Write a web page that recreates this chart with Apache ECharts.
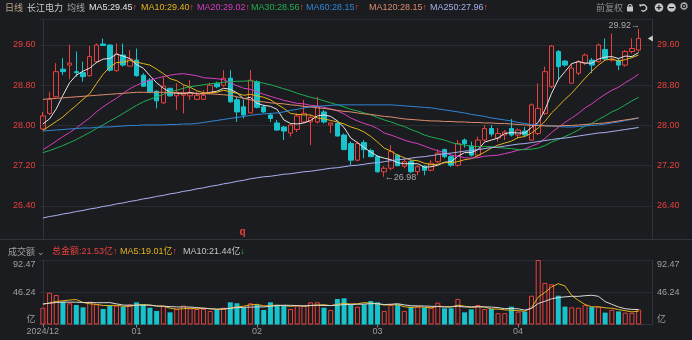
<!DOCTYPE html>
<html>
<head>
<meta charset="utf-8">
<script src="https://cdn.jsdelivr.net/npm/echarts@6/dist/echarts.min.js"></script>
<style>
html,body{margin:0;padding:0;background:#1b1c20;}
#c{width:692px;height:340px;}
</style>
</head>
<body>
<div id="c"></div>
<script>
// ---------------- data ----------------
const dates = [
 '2024-12-12','2024-12-13','2024-12-16','2024-12-17','2024-12-18','2024-12-19','2024-12-20','2024-12-23','2024-12-24','2024-12-25','2024-12-26','2024-12-27','2024-12-30','2024-12-31',
 '2025-01-02','2025-01-03','2025-01-06','2025-01-07','2025-01-08','2025-01-09','2025-01-10','2025-01-13','2025-01-14','2025-01-15','2025-01-16','2025-01-17','2025-01-20','2025-01-21','2025-01-22','2025-01-23','2025-01-24','2025-01-27',
 '2025-02-05','2025-02-06','2025-02-07','2025-02-10','2025-02-11','2025-02-12','2025-02-13','2025-02-14','2025-02-17','2025-02-18','2025-02-19','2025-02-20','2025-02-21','2025-02-24','2025-02-25','2025-02-26','2025-02-27','2025-02-28',
 '2025-03-03','2025-03-04','2025-03-05','2025-03-06','2025-03-07','2025-03-10','2025-03-11','2025-03-12','2025-03-13','2025-03-14','2025-03-17','2025-03-18','2025-03-19','2025-03-20','2025-03-21','2025-03-24','2025-03-25','2025-03-26','2025-03-27','2025-03-28','2025-03-31',
 '2025-04-01','2025-04-02','2025-04-03','2025-04-07','2025-04-08','2025-04-09','2025-04-10','2025-04-11','2025-04-14','2025-04-15','2025-04-16','2025-04-17','2025-04-18','2025-04-21','2025-04-22','2025-04-23','2025-04-24','2025-04-25','2025-04-28'
];
const monthTickLabels = ['2024/12','01','02','03','04'];

const opens = [
 27.93,28.24,28.57,29.12,29.20,29.07,29.05,28.99,29.27,29.62,
 29.60,29.09,29.40,29.18,29.30,29.00,28.90,28.68,28.45,28.74,
 28.59,28.60,28.59,28.52,28.52,28.64,28.84,28.80,28.94,28.51,
 28.37,28.25,28.87,28.37,28.21,28.05,27.97,27.85,27.92,28.07,
 28.07,28.07,28.27,28.01,28.04,27.81,27.64,27.31,27.66,27.50,
 27.38,27.08,27.15,27.41,27.19,27.28,27.08,27.19,27.11,27.28,
 27.52,27.38,27.21,27.71,27.59,27.41,27.71,27.94,27.75,27.81,
 27.94,27.81,27.89,27.71,27.84,28.24,28.77,29.47,29.28,28.84,
 29.04,29.24,29.30,29.27,29.51,29.30,29.29,29.20,29.47,29.50
];
const closes = [
 28.19,28.52,29.07,29.07,29.24,29.05,28.97,29.37,29.60,29.59,
 29.10,29.42,29.20,29.32,28.99,28.78,28.67,28.49,28.78,28.59,
 28.66,28.64,28.65,28.60,28.60,28.80,28.77,28.94,28.47,28.27,
 28.21,28.90,28.36,28.27,28.14,27.91,27.89,28.01,28.19,28.24,
 28.16,28.37,28.07,28.05,27.79,27.52,27.31,27.64,27.52,27.38,
 27.08,27.15,27.48,27.20,27.28,27.08,27.18,27.11,27.25,27.45,
 27.38,27.21,27.64,27.64,27.41,27.71,27.94,27.83,27.84,27.87,
 27.81,27.91,27.81,28.41,28.34,29.07,29.58,29.17,29.20,29.14,
 29.27,29.40,29.20,29.60,29.32,29.32,29.20,29.47,29.53,29.73
];
const lows = [
 27.91,28.21,28.56,29.00,28.92,28.97,28.87,28.97,29.24,29.58,
 29.07,29.07,29.17,29.17,28.97,28.77,28.64,28.34,28.43,28.57,
 28.31,28.24,28.51,28.51,28.51,28.62,28.74,28.77,28.45,28.07,
 28.14,28.24,28.34,28.25,28.07,27.89,27.71,27.78,27.87,28.05,
 27.61,28.04,28.04,27.85,27.78,27.51,27.21,27.29,27.35,27.37,
 27.06,26.98,27.11,27.19,27.15,27.05,27.01,27.01,27.09,27.25,
 27.35,27.18,27.18,27.56,27.38,27.38,27.68,27.78,27.68,27.71,
 27.78,27.74,27.78,27.70,27.81,28.21,28.74,28.90,29.17,28.84,
 29.00,29.20,29.04,29.24,29.30,29.27,29.10,29.17,29.43,29.47
];
const highs = [
 28.27,28.67,29.24,29.34,29.61,29.47,29.27,29.58,29.63,29.73,
 29.61,29.63,29.63,29.50,29.53,29.04,28.94,28.70,28.97,28.74,
 28.84,28.80,28.90,28.67,28.70,28.85,28.87,29.10,29.10,28.57,
 28.51,29.10,28.90,28.41,28.25,28.11,27.99,28.04,28.24,28.51,
 28.21,28.57,28.31,28.07,28.07,27.84,27.68,27.68,27.71,27.54,
 27.41,27.19,27.61,27.43,27.35,27.31,27.21,27.21,27.31,27.52,
 27.54,27.41,27.71,27.74,27.68,27.78,28.01,28.01,27.95,27.91,
 28.13,27.94,27.97,28.44,28.84,29.17,29.60,29.50,29.30,29.24,
 29.30,29.43,29.34,29.63,29.73,29.83,29.34,29.50,29.73,29.92
];
const ma5 = [
 28.03,28.13,28.33,28.60,28.85,29.00,29.08,29.14,29.25,29.32,
 29.33,29.42,29.38,29.33,29.21,29.14,28.99,28.85,28.74,28.66,
 28.64,28.63,28.66,28.63,28.63,28.66,28.68,28.74,28.72,28.65,
 28.53,28.56,28.44,28.40,28.38,28.32,28.11,28.04,28.03,28.05,
 28.10,28.19,28.21,28.18,28.09,27.96,27.75,27.66,27.56,27.47,
 27.39,27.35,27.32,27.26,27.24,27.24,27.24,27.17,27.18,27.21,
 27.27,27.28,27.39,27.46,27.46,27.52,27.67,27.71,27.75,27.84,
 27.86,27.85,27.85,27.96,28.06,28.31,28.64,28.91,29.07,29.23,
 29.27,29.24,29.24,29.32,29.36,29.37,29.33,29.38,29.37,29.45
];
const ma10 = [
 27.90,27.99,28.08,28.17,28.29,28.40,28.52,28.63,28.83,29.02,
 29.16,29.25,29.26,29.29,29.26,29.23,29.20,29.12,29.03,28.93,
 28.89,28.81,28.76,28.69,28.65,28.65,28.66,28.70,28.67,28.64,
 28.60,28.62,28.59,28.56,28.51,28.42,28.34,28.24,28.22,28.21,
 28.21,28.15,28.13,28.10,28.07,28.03,27.97,27.93,27.87,27.78,
 27.67,27.55,27.49,27.41,27.36,27.31,27.30,27.25,27.22,27.23,
 27.26,27.26,27.28,27.32,27.34,27.40,27.47,27.55,27.61,27.65,
 27.69,27.76,27.78,27.85,27.95,28.08,28.25,28.38,28.52,28.64,
 28.79,28.94,29.08,29.20,29.30,29.32,29.28,29.31,29.35,29.40
];
const ma20 = [
 27.52,27.60,27.69,27.78,27.86,27.95,28.05,28.15,28.27,28.37,
 28.46,28.54,28.64,28.73,28.80,28.86,28.90,28.94,28.97,29.00,
 29.02,29.03,29.01,28.99,28.95,28.94,28.93,28.91,28.85,28.79,
 28.74,28.72,28.67,28.62,28.58,28.54,28.50,28.47,28.44,28.43,
 28.40,28.39,28.36,28.33,28.29,28.23,28.15,28.09,28.04,28.00,
 27.94,27.85,27.81,27.76,27.71,27.67,27.64,27.59,27.54,27.50,
 27.46,27.41,27.39,27.36,27.35,27.36,27.39,27.40,27.41,27.44,
 27.47,27.51,27.53,27.59,27.64,27.74,27.86,27.96,28.06,28.15,
 28.24,28.35,28.43,28.53,28.62,28.70,28.76,28.85,28.93,29.02
];
const ma30 = [
 27.46,27.50,27.55,27.60,27.66,27.72,27.79,27.86,27.94,28.01,
 28.09,28.16,28.24,28.32,28.40,28.47,28.52,28.57,28.62,28.67,
 28.70,28.74,28.77,28.79,28.81,28.83,28.84,28.86,28.87,28.88,
 28.88,28.89,28.87,28.84,28.81,28.77,28.73,28.69,28.64,28.60,
 28.56,28.53,28.49,28.45,28.41,28.37,28.32,28.29,28.25,28.21,
 28.16,28.11,28.07,28.02,27.98,27.92,27.87,27.81,27.77,27.74,
 27.71,27.66,27.63,27.61,27.59,27.58,27.58,27.58,27.56,27.55,
 27.54,27.52,27.52,27.53,27.55,27.60,27.67,27.72,27.78,27.84,
 27.91,27.99,28.04,28.12,28.19,28.27,28.33,28.41,28.49,28.56
];
const ma60 = [
 27.89,27.90,27.91,27.92,27.93,27.94,27.95,27.95,27.96,27.97,
 27.97,27.98,27.99,28.00,28.00,28.01,28.01,28.01,28.01,28.02,
 28.02,28.03,28.03,28.04,28.06,28.08,28.10,28.12,28.14,28.16,
 28.18,28.20,28.22,28.23,28.24,28.25,28.27,28.30,28.32,28.35,
 28.37,28.38,28.39,28.40,28.41,28.41,28.41,28.41,28.41,28.41,
 28.41,28.41,28.41,28.40,28.39,28.38,28.37,28.36,28.35,28.33,
 28.31,28.29,28.27,28.25,28.22,28.20,28.18,28.15,28.13,28.11,
 28.09,28.06,28.04,28.02,28.01,28.00,27.99,27.98,27.97,27.97,
 27.98,27.99,28.00,28.01,28.03,28.05,28.07,28.10,28.12,28.15
];
const ma120 = [
 28.52,28.53,28.54,28.55,28.56,28.57,28.58,28.59,28.60,28.61,
 28.62,28.63,28.64,28.65,28.66,28.66,28.66,28.66,28.66,28.65,
 28.65,28.65,28.64,28.64,28.63,28.63,28.62,28.61,28.60,28.57,
 28.54,28.51,28.48,28.47,28.45,28.44,28.43,28.41,28.40,28.38,
 28.37,28.35,28.34,28.32,28.30,28.28,28.27,28.25,28.23,28.22,
 28.20,28.18,28.17,28.15,28.13,28.12,28.11,28.10,28.09,28.09,
 28.08,28.08,28.07,28.07,28.06,28.06,28.05,28.05,28.04,28.04,
 28.03,28.02,28.01,28.00,28.00,27.99,27.99,27.99,28.00,28.00,
 28.01,28.02,28.03,28.04,28.05,28.07,28.09,28.11,28.13,28.15
];
const ma250 = [
 26.16,26.19,26.21,26.24,26.26,26.29,26.31,26.34,26.36,26.39,
 26.41,26.44,26.46,26.49,26.51,26.54,26.56,26.59,26.61,26.64,
 26.66,26.69,26.71,26.74,26.76,26.79,26.81,26.84,26.86,26.89,
 26.91,26.94,26.96,26.98,26.99,27.01,27.03,27.04,27.06,27.08,
 27.09,27.11,27.13,27.15,27.16,27.18,27.20,27.21,27.23,27.25,
 27.26,27.28,27.30,27.32,27.33,27.35,27.37,27.38,27.40,27.42,
 27.44,27.45,27.47,27.49,27.50,27.52,27.54,27.56,27.57,27.59,
 27.61,27.63,27.64,27.66,27.68,27.70,27.72,27.74,27.75,27.77,
 27.79,27.81,27.83,27.85,27.86,27.88,27.90,27.92,27.94,27.96
];
// turnover, 亿
const volumes = [
 24.1,45.6,42.3,32.7,30.4,28.0,24.6,32.7,28.9,22.2,
 27.0,27.0,25.6,28.9,31.8,28.9,24.1,19.4,27.0,17.4,
 22.2,27.0,23.2,22.2,22.2,19.4,20.8,24.1,31.8,30.4,
 24.1,30.4,28.0,20.8,31.8,28.0,27.0,22.2,27.0,27.0,
 31.8,31.8,24.1,20.8,36.6,37.6,28.0,25.6,28.9,33.6,
 31.8,19.4,28.0,28.9,19.4,25.6,25.6,24.1,24.1,31.3,
 23.2,23.2,36.6,17.4,21.7,28.0,22.2,22.2,16.2,16.2,
 25.6,18.4,18.4,41.3,92.47,59.6,57.6,41.3,25.6,24.6,
 24.0,28.0,25.0,25.37,17.0,21.0,18.8,17.0,16.7,21.53
];
const volMa5 = [
 29.0,31.0,33.0,34.0,35.0,35.8,31.6,29.7,28.9,27.3,
 27.1,27.6,26.1,26.1,28.1,28.4,27.9,26.6,26.2,23.4,
 22.0,22.6,23.4,22.4,23.4,22.8,21.6,21.7,23.7,25.3,
 26.2,28.2,28.9,26.7,27.0,27.8,27.1,26.0,27.2,26.2,
 27.0,28.0,28.3,27.1,29.0,30.2,29.4,29.7,31.3,30.7,
 29.6,27.9,28.3,28.3,25.5,24.3,25.5,24.7,23.8,26.1,
 25.7,25.2,27.7,26.3,24.4,25.4,25.2,22.3,22.1,21.0,
 20.5,19.7,19.0,24.0,39.2,46.0,53.9,58.5,55.3,41.7,
 34.6,28.7,25.4,25.4,23.9,23.3,21.4,19.8,18.1,19.01
];
const volMa10 = [
 29.5,30.5,31.5,32.0,32.0,32.0,31.5,31.5,31.3,31.2,
 31.4,29.6,27.9,27.5,27.7,27.8,27.7,26.4,26.2,25.7,
 25.2,25.2,25.0,24.3,23.4,22.4,22.1,22.6,23.0,24.3,
 24.5,24.9,25.3,25.2,26.2,27.0,27.6,27.5,27.0,26.6,
 27.4,27.5,27.2,27.2,27.6,28.6,28.7,29.0,29.2,29.9,
 29.9,28.6,29.0,29.8,28.1,26.9,26.7,26.5,26.1,25.8,
 25.0,25.3,26.2,25.1,25.3,25.5,25.2,25.0,24.2,22.7,
 22.9,22.5,20.6,23.0,30.1,33.3,36.8,38.7,39.6,40.5,
 40.3,41.3,41.9,40.4,32.8,28.9,25.1,22.6,21.7,21.44
];
const priceTicks = [26.40, 27.20, 28.00, 28.80, 29.60];
const volTicks = [0, 46.24, 92.47];
const eventMarks = [{ index: 30, text: 'q' }];

// ---------------- style ----------------
const BG = '#1b1c20';
const GRIDLINE = '#2b2c31';
const FRAME = '#33343a';
const RED = '#e8403c';
const CYAN = '#18c3cb';
const FONT = '"Liberation Sans", "Noto Sans CJK SC", sans-serif';
const CJK = '"Noto Sans CJK SC", "Liberation Sans", sans-serif';
const MA_COLORS = {
  MA5: '#e6e6e6', MA10: '#e3b21c', MA20: '#d63fc0', MA30: '#1fae4f',
  MA60: '#2f86d8', MA120: '#dc8c6c', MA250: '#a9aff0'
};
const N = dates.length;
const X_MIN = -0.5, X_MAX = 91;
const Y_MIN = 25.733, Y_MAX = 30.117;
const V_MIN = 0, V_MAX = 92.47;

const monthIdx = [];
dates.forEach((d, i) => { if (i === 0 || d.slice(0, 7) !== dates[i - 1].slice(0, 7)) monthIdx.push(i); });

const last = N - 1;
const maxHigh = Math.max(...highs), iMax = highs.indexOf(maxHigh);
const minLow = Math.min(...lows), iMin = lows.indexOf(minLow);

const maSeries = [
  ['MA5', ma5], ['MA10', ma10], ['MA20', ma20], ['MA30', ma30],
  ['MA60', ma60], ['MA120', ma120], ['MA250', ma250]
];

// ---------------- graphic helpers ----------------
function richText(x, y, segs, font) {
  let text = '';
  const rich = {};
  segs.forEach((s, k) => {
    text += '{s' + k + '|' + s[0] + '}';
    rich['s' + k] = { fill: s[1], fontSize: s[2] || 9, fontFamily: font || FONT, fontWeight: s[3] || 'normal' };
  });
  return { type: 'text', x: x, y: y, silent: true, z: 100,
    style: { text: text, rich: rich, verticalAlign: 'middle', align: 'left', fontSize: 9, fontFamily: font || FONT } };
}
const UP = '↑', DOWN = '↓';
const legendX = { MA5: 89, MA10: 141, MA20: 197, MA30: 251, MA60: 306, MA120: 369, MA250: 430 };
const graphics = [];
graphics.push(richText(5, 7.5, [['日线', '#b8a78c']], CJK));
graphics.push(richText(27, 7.5, [['长江电力', '#c9c9c9']], CJK));
graphics.push(richText(67, 7.5, [['均线', '#a3a3a3']], CJK));
maSeries.forEach(([name, arr]) => {
  graphics.push(richText(legendX[name], 7.5, [[name + ':' + arr[last].toFixed(2), MA_COLORS[name]], [UP, RED, 9, 'bold']]));
});
graphics.push(richText(596, 7.5, [['前复权', '#8e8e8e']], CJK));
// toolbar icons
const ICON = '#c8c8c8';
graphics.push({ type: 'rect', silent: true, shape: { x: 627, y: 6.5, width: 6, height: 5, r: 0.5 }, style: { fill: ICON } });
graphics.push({ type: 'arc', silent: true, shape: { cx: 630, cy: 6.5, r: 2, startAngle: Math.PI, endAngle: 0 }, style: { stroke: ICON, lineWidth: 1.2, fill: null } });
graphics.push({ type: 'arc', silent: true, shape: { cx: 643.5, cy: 8, r: 3, startAngle: -Math.PI * 0.75, endAngle: Math.PI * 0.75 }, style: { stroke: ICON, lineWidth: 1.4, fill: null } });
graphics.push({ type: 'polygon', silent: true, shape: { points: [[639, 4.5], [642, 4.2], [640.2, 7.2]] }, style: { fill: ICON } });
graphics.push({ type: 'circle', silent: true, shape: { cx: 659, cy: 7.5, r: 4.3 }, style: { fill: ICON } });
graphics.push({ type: 'rect', silent: true, shape: { x: 656.5, y: 7, width: 5, height: 1.2 }, style: { fill: BG } });
graphics.push({ type: 'rect', silent: true, shape: { x: 658.4, y: 5, width: 1.2, height: 5 }, style: { fill: BG } });
graphics.push({ type: 'circle', silent: true, shape: { cx: 671.5, cy: 7.5, r: 4.3 }, style: { fill: ICON } });
graphics.push({ type: 'rect', silent: true, shape: { x: 669, y: 7, width: 5, height: 1.2 }, style: { fill: BG } });
graphics.push({ type: 'text', silent: true, x: 684, y: 7.5, style: { text: '⚙', fill: ICON, fontSize: 11, fontFamily: '"DejaVu Sans"', align: 'center', verticalAlign: 'middle' } });
// separator between panels
graphics.push({ type: 'line', silent: true, shape: { x1: 0, y1: 239.5, x2: 692, y2: 239.5 }, style: { stroke: FRAME, lineWidth: 1 } });
// volume legend
graphics.push(richText(8, 251.5, [['成交额', '#a0a0a0'], [' ⌄', '#a0a0a0', 9]], CJK));
graphics.push(richText(52, 251.5, [['总金额:' + volumes[last].toFixed(2) + '亿', RED], [UP, RED, 9, 'bold']]));
graphics.push(richText(120, 251.5, [['MA5:' + volMa5[last].toFixed(2) + '亿', MA_COLORS.MA10], [UP, RED, 9, 'bold']]));
graphics.push(richText(183, 251.5, [['MA10:' + volMa10[last].toFixed(2) + '亿', '#c4c4c4'], [DOWN, '#1fc04a', 9, 'bold']]));

// ---------------- option ----------------
const candleData = dates.map((d, i) => [i, opens[i], closes[i], lows[i], highs[i]]);
const volData = volumes.map((v, i) => ({
  value: [i, v],
  itemStyle: closes[i] >= opens[i]
    ? { color: 'rgba(0,0,0,0)', borderColor: RED, borderWidth: 1 }
    : { color: CYAN, borderColor: CYAN, borderWidth: 0 }
}));

const option = {
  backgroundColor: BG,
  animation: false,
  textStyle: { fontFamily: FONT },
  grid: [
    { left: 39.5, right: 40, top: 19, height: 220.5 },
    { left: 39.5, right: 40, top: 260, height: 64.5 }
  ],
  xAxis: [
    { type: 'value', gridIndex: 0, min: X_MIN, max: X_MAX, position: 'top',
      axisLine: { show: true, lineStyle: { color: GRIDLINE } }, axisTick: { show: false }, axisLabel: { show: false }, splitLine: { show: false } },
    { type: 'value', gridIndex: 1, min: X_MIN, max: X_MAX,
      axisLine: { show: true, lineStyle: { color: FRAME } },
      axisTick: { show: true, customValues: monthIdx, length: 3, lineStyle: { color: '#8a8a8a' } },
      axisLabel: { show: true, customValues: monthIdx, color: '#9c9c9c', fontSize: 9, margin: 3, fontFamily: FONT,
        formatter: v => monthTickLabels[monthIdx.indexOf(Math.round(v))] || '' },
      splitLine: { show: false } }
  ],
  yAxis: [
    { type: 'value', gridIndex: 0, position: 'left', min: Y_MIN, max: Y_MAX,
      axisLine: { show: true, lineStyle: { color: FRAME } },
      axisTick: { show: false, customValues: priceTicks },
      axisLabel: { customValues: priceTicks, color: RED, fontSize: 9, margin: 4, fontFamily: FONT, formatter: v => v.toFixed(2) },
      splitLine: { show: true, lineStyle: { color: GRIDLINE, width: 1 } } },
    { type: 'value', gridIndex: 0, position: 'right', min: Y_MIN, max: Y_MAX,
      axisLine: { show: true, lineStyle: { color: FRAME } },
      axisTick: { show: false, customValues: priceTicks },
      axisLabel: { customValues: priceTicks, color: RED, fontSize: 9, margin: 5, fontFamily: FONT, formatter: v => v.toFixed(2) },
      splitLine: { show: false } },
    { type: 'value', gridIndex: 1, position: 'left', min: V_MIN, max: V_MAX,
      axisLine: { show: true, lineStyle: { color: FRAME } },
      axisTick: { show: false, customValues: volTicks },
      axisLabel: { customValues: volTicks, color: '#a0a0a0', fontSize: 9, margin: 4, fontFamily: FONT,
        verticalAlignMinLabel: 'bottom', verticalAlignMaxLabel: 'top',
        formatter: v => v === 0 ? '亿' : v.toFixed(2) },
      splitLine: { show: true, lineStyle: { color: GRIDLINE, width: 1 } } },
    { type: 'value', gridIndex: 1, position: 'right', min: V_MIN, max: V_MAX,
      axisLine: { show: true, lineStyle: { color: FRAME } },
      axisTick: { show: false, customValues: volTicks },
      axisLabel: { customValues: volTicks, color: '#a0a0a0', fontSize: 9, margin: 5, fontFamily: FONT,
        verticalAlignMinLabel: 'bottom', verticalAlignMaxLabel: 'top',
        formatter: v => v === 0 ? '亿' : v.toFixed(2) },
      splitLine: { show: false } }
  ],
  graphic: graphics,
  series: [
    { type: 'candlestick', xAxisIndex: 0, yAxisIndex: 0, data: candleData, barWidth: 5,
      itemStyle: { color: 'rgba(0,0,0,0)', color0: CYAN, borderColor: RED, borderColor0: CYAN, borderWidth: 1 },
      markPoint: {
        symbol: 'circle', symbolSize: 1, silent: true, animation: false,
        itemStyle: { color: 'rgba(0,0,0,0)' },
        label: { show: true, color: '#a9a9a9', fontSize: 9, fontFamily: FONT },
        data: [
          { coord: [iMax, maxHigh], value: maxHigh,
            label: { position: 'left', distance: 0, offset: [2, -3], formatter: maxHigh.toFixed(2) + '→' } },
          { coord: [iMin, minLow], value: minLow,
            label: { position: 'right', distance: 0, offset: [0, 1], formatter: '←' + minLow.toFixed(2) } },
          { coord: [X_MAX - 0.25, closes[last]], symbol: 'triangle', symbolSize: [6, 5], symbolRotate: 90,
            itemStyle: { color: '#cfcfcf' }, label: { show: false } }
        ].concat(eventMarks.map(m => ({
          coord: [m.index, Y_MIN], value: 0,
          label: { position: 'top', distance: 2, offset: [-1, 0], formatter: m.text, color: RED, fontSize: 10, fontWeight: 'bold' }
        })))
      }
    },
    ...maSeries.map(([name, arr]) => ({
      type: 'line', name: name, xAxisIndex: 0, yAxisIndex: 0, showSymbol: false, symbol: 'none',
      data: arr.map((v, i) => [i, v]),
      lineStyle: { color: MA_COLORS[name], width: 1 }, z: 3
    })),
    { type: 'bar', xAxisIndex: 1, yAxisIndex: 2, data: volData, barWidth: 5 },
    { type: 'line', xAxisIndex: 1, yAxisIndex: 2, showSymbol: false, symbol: 'none',
      data: volMa5.map((v, i) => [i, v]), lineStyle: { color: MA_COLORS.MA10, width: 1 }, z: 3 },
    { type: 'line', xAxisIndex: 1, yAxisIndex: 2, showSymbol: false, symbol: 'none',
      data: volMa10.map((v, i) => [i, v]), lineStyle: { color: '#d8d8d8', width: 1 }, z: 3 }
  ]
};

const chart = echarts.init(document.getElementById('c'), null, { renderer: 'canvas' });
chart.setOption(option);
</script>
</body>
</html>
